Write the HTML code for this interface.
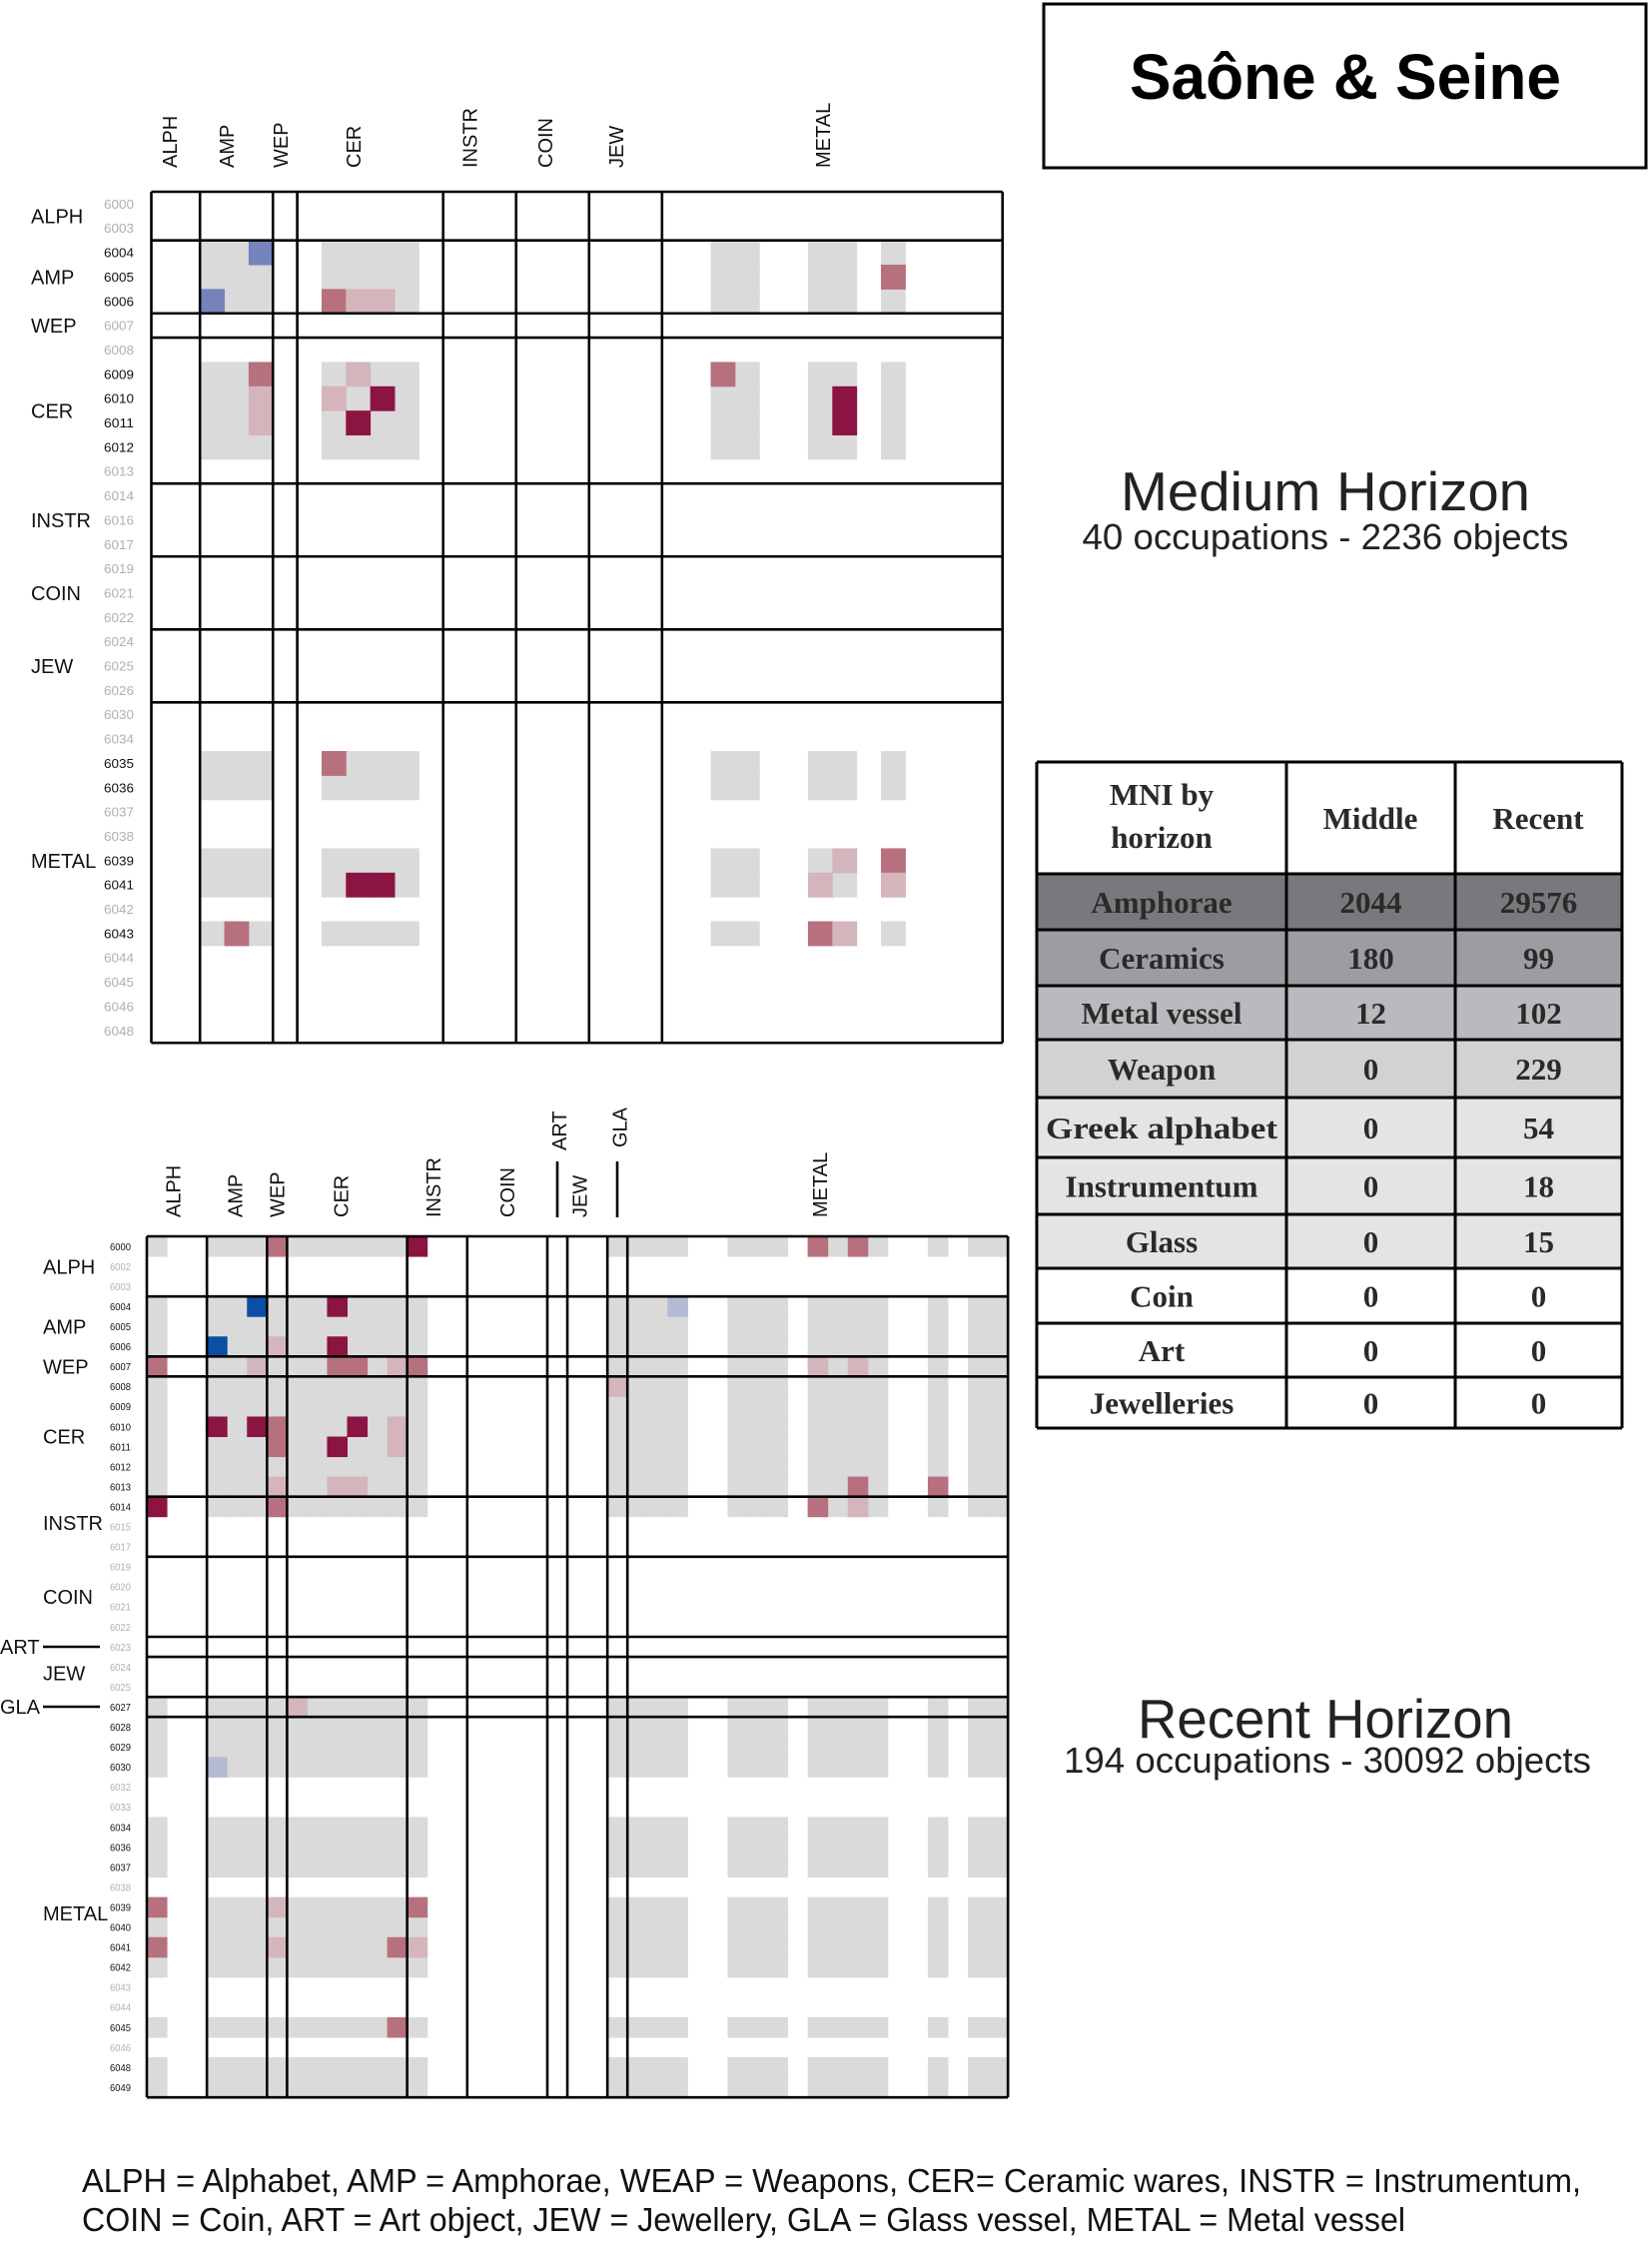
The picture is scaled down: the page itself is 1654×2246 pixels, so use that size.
<!DOCTYPE html>
<html><head><meta charset="utf-8">
<style>
html,body{margin:0;padding:0;background:#fff;}
svg{display:block;}
text{font-family:"Liberation Sans",sans-serif;}
.ser{font-family:"Liberation Serif",serif;font-weight:bold;fill:#2a2a2a;}
</style></head>
<body>
<svg id="s" width="1654" height="2246" viewBox="0 0 1654 2246" xmlns="http://www.w3.org/2000/svg">
<rect width="1654" height="2246" fill="#fff"/>
<g id="m"></g>
<rect x="1045" y="4" width="603" height="164" fill="none" stroke="#000" stroke-width="3"/>
<text x="1347" y="99" text-anchor="middle" font-size="64" font-weight="bold" textLength="432" lengthAdjust="spacingAndGlyphs">Saône &amp; Seine</text>
<text x="1327" y="511" text-anchor="middle" font-size="55" fill="#222" textLength="410" lengthAdjust="spacingAndGlyphs">Medium Horizon</text>
<text x="1327" y="550" text-anchor="middle" font-size="36" fill="#222" textLength="487" lengthAdjust="spacingAndGlyphs">40 occupations - 2236 objects</text>
<text x="1327" y="1740" text-anchor="middle" font-size="55" fill="#222" textLength="376" lengthAdjust="spacingAndGlyphs">Recent Horizon</text>
<text x="1329" y="1775" text-anchor="middle" font-size="36" fill="#222" textLength="528" lengthAdjust="spacingAndGlyphs">194 occupations - 30092 objects</text>
<text x="82" y="2195" font-size="33" fill="#111" textLength="1501" lengthAdjust="spacingAndGlyphs">ALPH = Alphabet, AMP = Amphorae, WEAP = Weapons, CER= Ceramic wares, INSTR = Instrumentum,</text>
<text x="82" y="2234" font-size="33" fill="#111" textLength="1325" lengthAdjust="spacingAndGlyphs">COIN = Coin, ART = Art object, JEW = Jewellery, GLA = Glass vessel, METAL = Metal vessel</text>
<g id="tb"></g>
</svg>
<script>
var NS="http://www.w3.org/2000/svg";
var M=document.getElementById("m");
function el(t,a,txt,p){var e=document.createElementNS(NS,t);for(var k in a)e.setAttribute(k,a[k]);if(txt!=null)e.textContent=txt;(p||M).appendChild(e);return e;}
var C={g:"#dadada",b:"#7583bb",m:"#b7707d",l:"#d4b5bb",d:"#8c1442",B:"#0a4fa3",L:"#b5bad3"};
function matrix(o){
  var x0=o.x,y0=o.y,c=o.c,n=o.labels.length;
  var S={};o.gray.forEach(function(i){S[i]=1;});
  for(var r=0;r<n;r++)for(var q=0;q<n;q++)if(S[r]&&S[q])el("rect",{x:x0+q*c,y:y0+r*c,width:c+0.5,height:c+0.5,fill:C.g});
  o.cells.forEach(function(a){el("rect",{x:x0+a[1]*c,y:y0+a[0]*c,width:c+0.5,height:c+0.5,fill:C[a[2]]});});
  o.bounds.forEach(function(b){
    el("line",{x1:x0+b*c,y1:y0,x2:x0+b*c,y2:y0+n*c,stroke:"#000","stroke-width":2.6});
    el("line",{x1:x0,y1:y0+b*c,x2:x0+n*c,y2:y0+b*c,stroke:"#000","stroke-width":2.6});
  });
  for(var r=0;r<n;r++){
    el("text",{x:o.numx,y:y0+r*c+c/2+o.nfs*0.36,"font-size":o.nfs,fill:S[r]?"#111":"#b0b0b0",textLength:o.numw,lengthAdjust:"spacingAndGlyphs"},String(o.labels[r]));
  }
  o.rowlab.forEach(function(a){el("text",{x:a[1],y:y0+a[0]*c+o.rfs*0.36,"font-size":o.rfs,fill:"#111"},a[2]);});
  o.collab.forEach(function(a){
    var x=x0+a[0]*c, y=a[2]||o.hb;
    el("text",{x:0,y:0,"font-size":o.hfs,fill:"#111",transform:"translate("+(x+o.hfs*0.36)+","+y+") rotate(-90)"},a[1]);
  });
}
var L1=[6000,6003,6004,6005,6006,6007,6008,6009,6010,6011,6012,6013,6014,6016,6017,6019,6021,6022,6024,6025,6026,6030,6034,6035,6036,6037,6038,6039,6041,6042,6043,6044,6045,6046,6048];
var c1=24.35;
matrix({x:151.5,y:192,c:c1,labels:L1,
 gray:[2,3,4,7,8,9,10,23,24,27,28,30],
 cells:[[2,4,"b"],[4,2,"b"],[4,7,"m"],[4,8,"l"],[4,9,"l"],[3,30,"m"],
  [7,4,"m"],[8,4,"l"],[9,4,"l"],[7,8,"l"],[8,7,"l"],[8,9,"d"],[9,8,"d"],
  [7,23,"m"],[8,28,"d"],[9,28,"d"],[23,7,"m"],
  [27,28,"l"],[27,30,"m"],[28,8,"d"],[28,9,"d"],[28,27,"l"],[28,30,"l"],
  [30,3,"m"],[30,27,"m"],[30,28,"l"]],
 bounds:[0,2,5,6,12,15,18,21,35],
 numx:104,numw:30,nfs:13,rfs:20,hfs:20,hb:168,
 rowlab:[[1,31,"ALPH"],[3.5,31,"AMP"],[5.5,31,"WEP"],[9,31,"CER"],[13.5,31,"INSTR"],[16.5,31,"COIN"],[19.5,31,"JEW"],[27.5,31,"METAL"]],
 collab:[[0.75,"ALPH"],[3.1,"AMP"],[5.3,"WEP"],[8.3,"CER"],[13.1,"INSTR"],[16.2,"COIN"],[19.1,"JEW"],[27.6,"METAL"]]
});
var L2=[6000,6002,6003,6004,6005,6006,6007,6008,6009,6010,6011,6012,6013,6014,6015,6017,6019,6020,6021,6022,6023,6024,6025,6027,6028,6029,6030,6032,6033,6034,6036,6037,6038,6039,6040,6041,6042,6043,6044,6045,6046,6048,6049];
var g2=[0];for(var i=3;i<=13;i++)g2.push(i);[23,24,25,26,29,30,31,33,34,35,36,39,41,42].forEach(function(v){g2.push(v);});
var c2=20.05;
matrix({x:147,y:1238,c:c2,labels:L2,gray:g2,
 cells:[[0,6,"m"],[0,33,"m"],[0,35,"m"],[6,0,"m"],[6,9,"m"],[6,10,"m"],[6,13,"m"],[9,6,"m"],[10,6,"m"],[12,35,"m"],[12,39,"m"],[13,6,"m"],[13,33,"m"],[33,0,"m"],[33,13,"m"],[35,0,"m"],[35,12,"m"],[39,12,"m"],
  [0,13,"d"],[3,9,"d"],[5,9,"d"],[9,3,"d"],[9,5,"d"],[9,10,"d"],[10,9,"d"],[13,0,"d"],
  [3,5,"B"],[5,3,"B"],[3,26,"L"],[26,3,"L"],
  [5,6,"l"],[6,5,"l"],[6,12,"l"],[6,33,"l"],[6,35,"l"],[7,23,"l"],[9,12,"l"],[10,12,"l"],[12,6,"l"],[12,9,"l"],[12,10,"l"],[13,35,"l"],[23,7,"l"],[33,6,"l"],[35,6,"l"],[35,13,"l"]],
 bounds:[0,3,6,7,13,16,20,21,23,24,43],
 numx:110,numw:21,nfs:10.5,rfs:20,hfs:20,hb:1219,
 rowlab:[[1.5,43,"ALPH"],[4.5,43,"AMP"],[6.5,43,"WEP"],[10,43,"CER"],[14.3,43,"INSTR"],[18,43,"COIN"],[21.8,43,"JEW"],[33.8,43,"METAL"]],
 collab:[[1.3,"ALPH"],[4.4,"AMP"],[6.5,"WEP"],[9.7,"CER"],[14.3,"INSTR"],[18.0,"COIN"],[21.6,"JEW"],[20.6,"ART",1152],[23.6,"GLA",1149],[33.6,"METAL"]]
});
el("line",{x1:558,y1:1163,x2:558,y2:1219,stroke:"#000","stroke-width":2.6});
el("line",{x1:618,y1:1163,x2:618,y2:1219,stroke:"#000","stroke-width":2.6});
el("text",{x:0,y:1656,"font-size":20,fill:"#111"},"ART");
el("line",{x1:43,y1:1649,x2:100,y2:1649,stroke:"#000","stroke-width":2.6});
el("text",{x:0,y:1716,"font-size":20,fill:"#111"},"GLA");
el("line",{x1:43,y1:1709,x2:100,y2:1709,stroke:"#000","stroke-width":2.6});
var T=document.getElementById("tb");
var X=[1038,1288,1457,1624];
var Y=[763,875,931,987,1041,1099,1159,1216,1270,1325,1379,1430];
var rows=[["Amphorae","2044","29576","#79797d"],["Ceramics","180","99","#9b9da1"],["Metal vessel","12","102","#b9babd"],["Weapon","0","229","#d1d2d4"],["Greek alphabet","0","54","#e3e4e6"],["Instrumentum","0","18","#e3e4e6"],["Glass","0","15","#e3e4e6"],["Coin","0","0","#fff"],["Art","0","0","#fff"],["Jewelleries","0","0","#fff"]];
for(var i=0;i<rows.length;i++){
  el("rect",{x:X[0],y:Y[i+1],width:X[3]-X[0],height:Y[i+2]-Y[i+1],fill:rows[i][3]},null,T);
  var cy=(Y[i+1]+Y[i+2])/2+11;
  for(var j=0;j<3;j++){
    var a={x:(X[j]+X[j+1])/2,y:cy,"text-anchor":"middle","font-size":31,"class":"ser"};
    if(j==0&&rows[i][0]=="Greek alphabet"){a.textLength=232;a.lengthAdjust="spacingAndGlyphs";}
    el("text",a,rows[i][j],T);
  }
}
el("text",{x:1163,y:806,"text-anchor":"middle","font-size":31,"class":"ser"},"MNI by",T);
el("text",{x:1163,y:849,"text-anchor":"middle","font-size":31,"class":"ser"},"horizon",T);
el("text",{x:1372,y:830,"text-anchor":"middle","font-size":31,"class":"ser"},"Middle",T);
el("text",{x:1540,y:830,"text-anchor":"middle","font-size":31,"class":"ser"},"Recent",T);
Y.forEach(function(y){el("line",{x1:X[0],y1:y,x2:X[3],y2:y,stroke:"#000","stroke-width":3},null,T);});
X.forEach(function(x){el("line",{x1:x,y1:Y[0],x2:x,y2:Y[11],stroke:"#000","stroke-width":3},null,T);});
</script>
</body></html>
